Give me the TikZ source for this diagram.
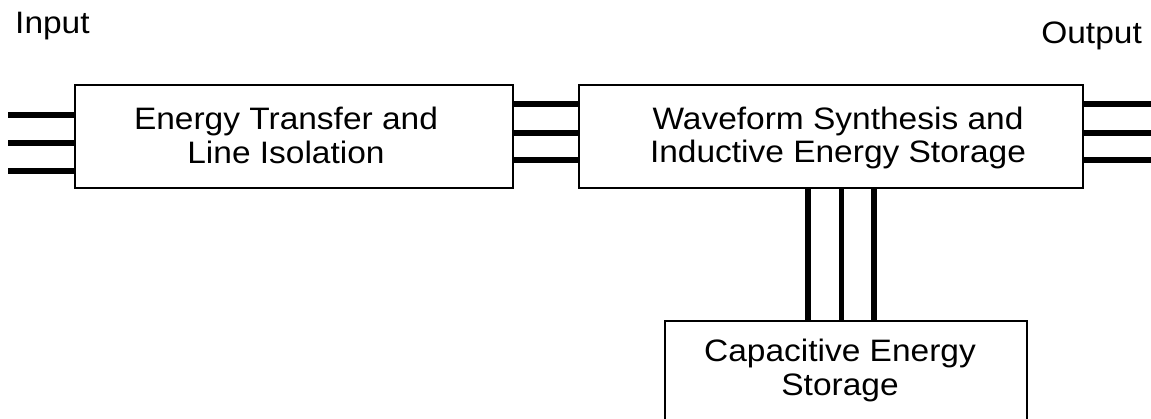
\documentclass[tikz,border=0pt]{standalone}
\usepackage{fontspec}
\setmainfont{Liberation Sans}[FakeStretch=1.08]
\begin{document}
\begin{tikzpicture}[x=1pt,y=-1pt,
  blk/.style={draw, line width=2pt, fill=white},
  lbl/.style={font=\fontsize{31}{33.5}\selectfont, align=center, inner sep=0pt},
  bus/.style={line width=5.5pt}]
\useasboundingbox (0,0) rectangle (1151,419);
\begin{scope}
\clip (0,0) rectangle (1151,419);
% boxes
\draw[blk] (75,85) rectangle (513,188);
\draw[blk] (579,85) rectangle (1083,188);
\draw[blk] (665,321) rectangle (1027,440);
\end{scope}
\node[lbl] (t1) at (286,135.5) {Energy Transfer and\\Line Isolation};
\node[lbl] (t2) at (838,138) {Waveform Synthesis and\\Inductive Energy Storage};
\node[lbl] (t3) at (840,370.4) {Capacitive Energy\\Storage};
\node[lbl, anchor=base west] (in) at (15,33.3) {Input};
\node[lbl, anchor=base east] (out) at (1142,43.5) {Output};
% input lines
\coordinate (i1a) at (8,115); \coordinate (i1b) at (74,115);
\coordinate (i2a) at (8,143); \coordinate (i2b) at (74,143);
\coordinate (i3a) at (8,171); \coordinate (i3b) at (74,171);
\draw[bus] (i1a) -- (i1b);
\draw[bus] (i2a) -- (i2b);
\draw[bus] (i3a) -- (i3b);
% inter-box lines
\coordinate (m1a) at (514,104); \coordinate (m1b) at (578,104);
\coordinate (m2a) at (514,133); \coordinate (m2b) at (578,133);
\coordinate (m3a) at (514,160); \coordinate (m3b) at (578,160);
\draw[bus] (m1a) -- (m1b);
\draw[bus] (m2a) -- (m2b);
\draw[bus] (m3a) -- (m3b);
% output lines
\coordinate (o1a) at (1084,104); \coordinate (o1b) at (1151,104);
\coordinate (o2a) at (1084,133); \coordinate (o2b) at (1151,133);
\coordinate (o3a) at (1084,160); \coordinate (o3b) at (1151,160);
\draw[bus] (o1a) -- (o1b);
\draw[bus] (o2a) -- (o2b);
\draw[bus] (o3a) -- (o3b);
% vertical lines
\coordinate (v1a) at (808,189); \coordinate (v1b) at (808,320);
\coordinate (v2a) at (841,189); \coordinate (v2b) at (841,320);
\coordinate (v3a) at (874,189); \coordinate (v3b) at (874,320);
\draw[bus] (v1a) -- (v1b);
\draw[line width=5pt] (v2a) -- (v2b);
\draw[bus] (v3a) -- (v3b);
\end{tikzpicture}
\end{document}
